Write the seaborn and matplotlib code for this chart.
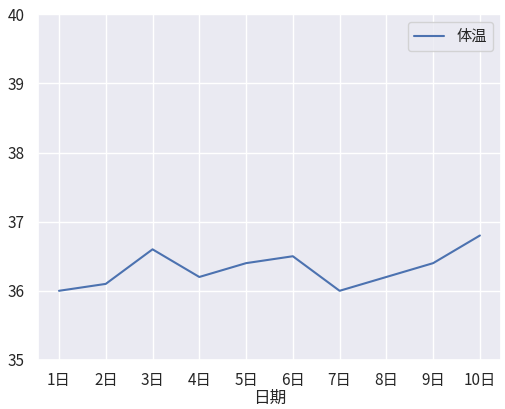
import matplotlib
matplotlib.use("Agg")
import matplotlib.pyplot as plt
import seaborn as sns
import pandas as pd

days = ["1日", "2日", "3日", "4日", "5日", "6日", "7日", "8日", "9日", "10日"]
temps = [36.0, 36.1, 36.6, 36.2, 36.4, 36.5, 36.0, 36.2, 36.4, 36.8]

sns.set_theme(style="darkgrid")
plt.rcParams['font.family'] = ['Noto Sans CJK SC', 'DejaVu Sans']
plt.rcParams['axes.unicode_minus'] = False

df = pd.DataFrame({"日期": days, "体温": temps})

fig, ax = plt.subplots(figsize=(5.06, 4.09), dpi=100)
sns.lineplot(data=df, x="日期", y="体温", ax=ax, label="体温", sort=False)
ax.set_ylim(35, 40)
ax.set_ylabel("")
ax.set_xlabel("日期", labelpad=0)
ax.tick_params(axis="x", pad=3)
ax.legend(loc="upper right")
fig.subplots_adjust(left=0.075, right=0.99, top=0.965, bottom=0.12)
fig.savefig("out.png", dpi=100)
